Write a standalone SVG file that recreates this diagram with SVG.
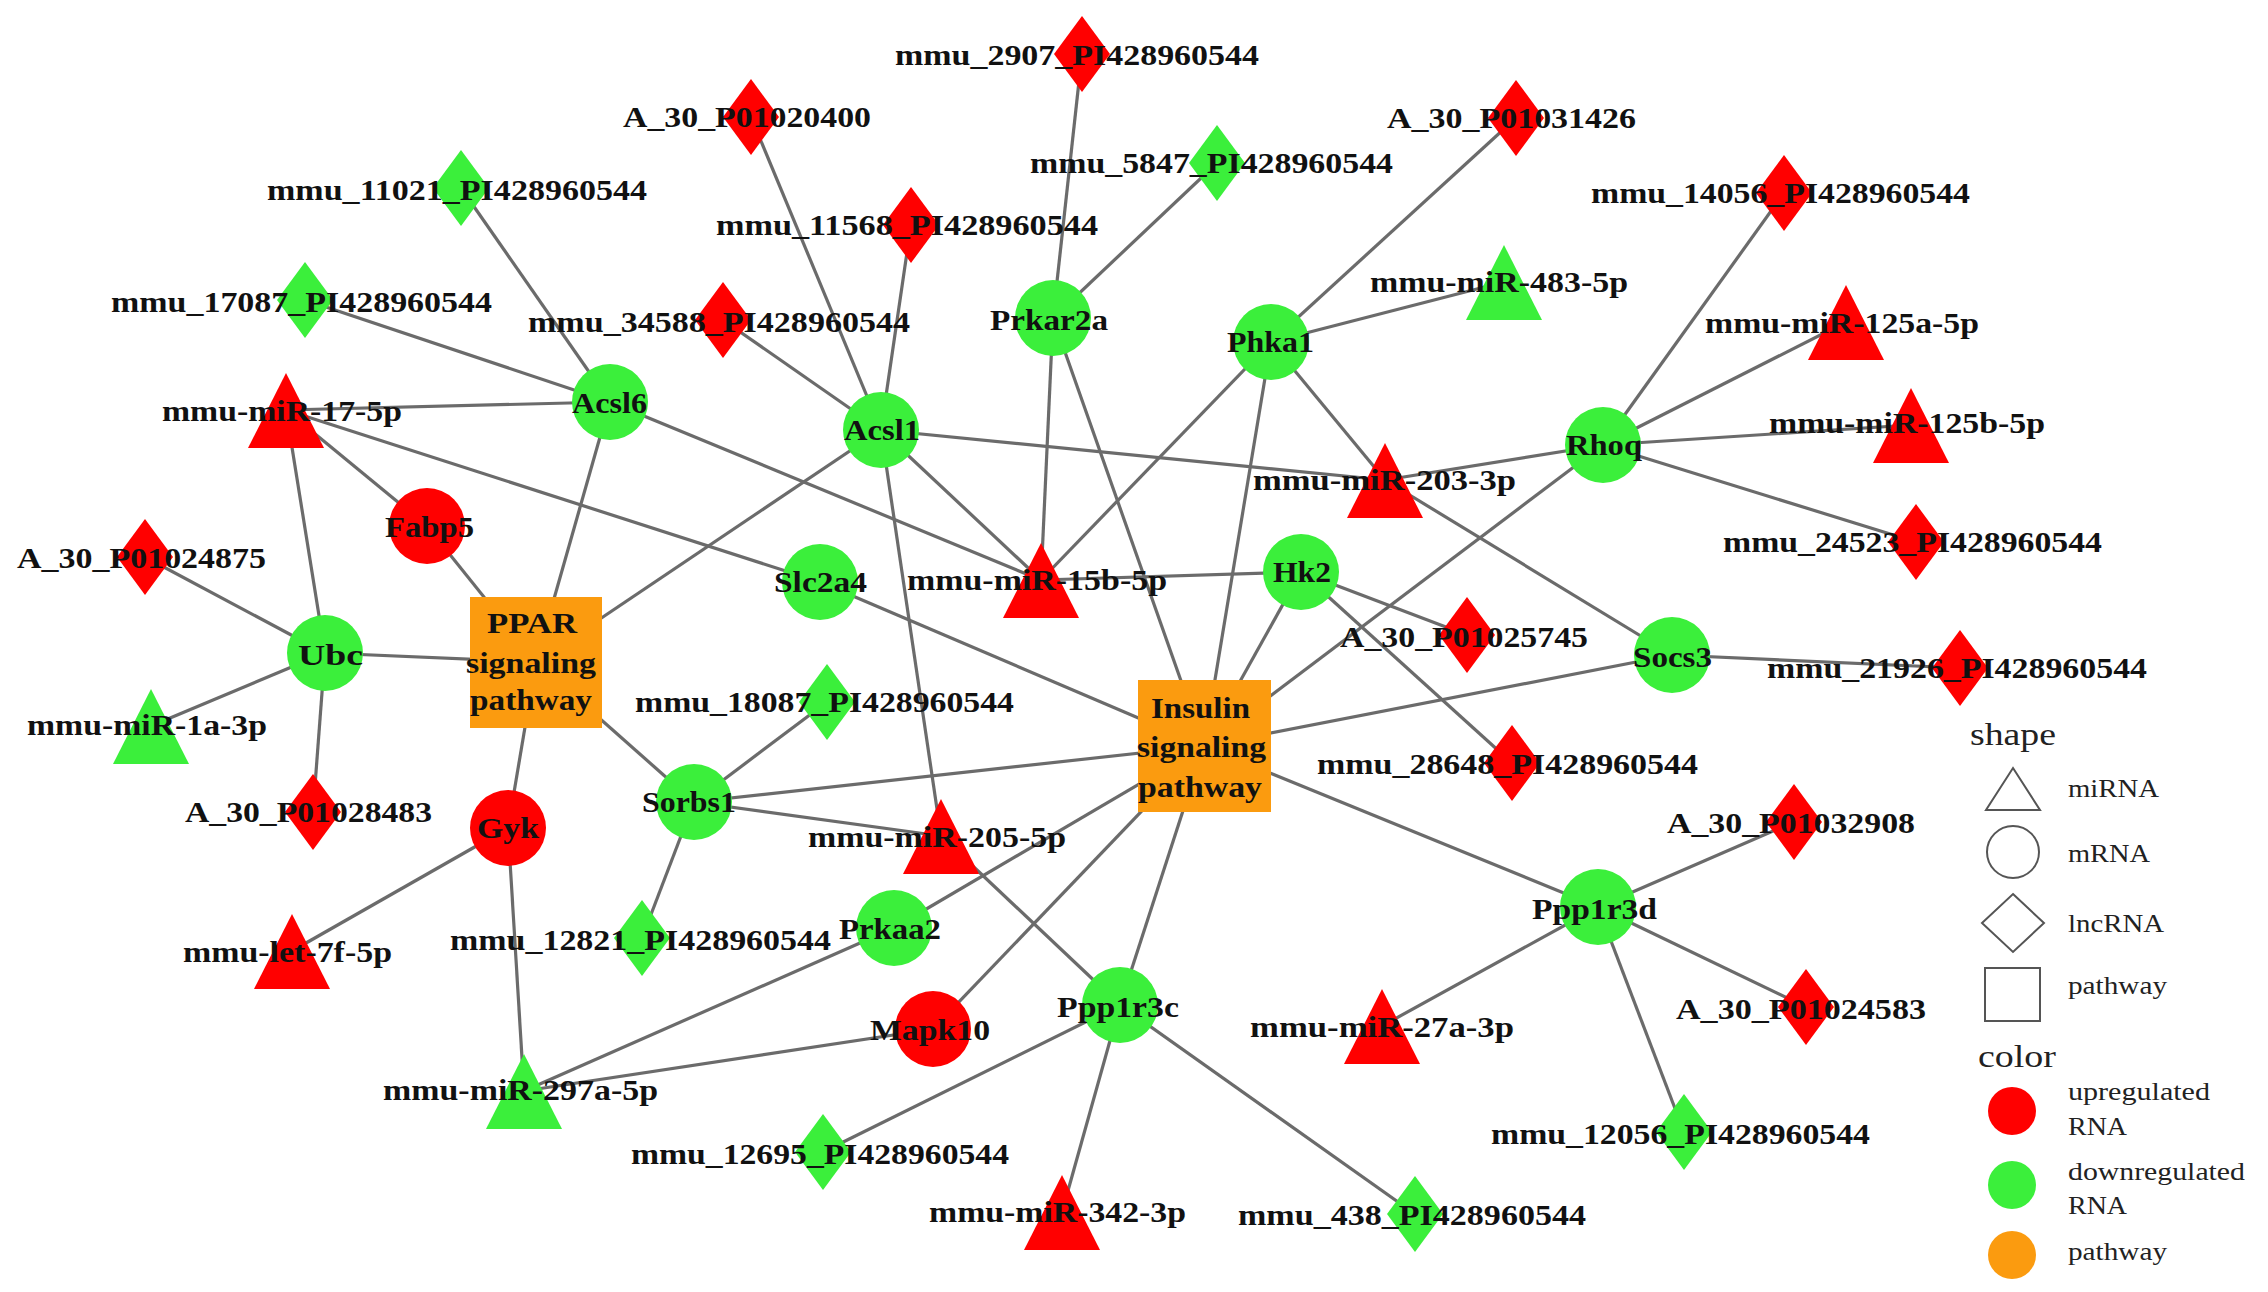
<svg xmlns="http://www.w3.org/2000/svg" xmlns:xlink="http://www.w3.org/1999/xlink" width="2268" height="1292" viewBox="0 0 2268 1292">
<style>
.e{stroke:#6b6b6b;stroke-width:3.2;fill:none}
.r{fill:#ff0000}
.g{fill:#3bef3b}
.o{fill:#fb9b0f}
.t{font-family:"Liberation Serif","Times New Roman",serif;font-weight:bold;font-size:30px;fill:#111}
.l{font-family:"Liberation Serif","Times New Roman",serif;font-size:26px;fill:#222}
.lt{font-family:"Liberation Serif","Times New Roman",serif;font-size:31px;fill:#222}
.ol{fill:#fff;stroke:#555;stroke-width:2}
</style>
<defs>
<path id="dia" d="M0,-38 L28,0 L0,38 L-28,0 Z"/>
<path id="tri" d="M0,-37 L38,38 L-38,38 Z"/>
</defs>
<rect width="2268" height="1292" fill="#fff"/>
<g id="connectors">
<line class="e" x1="461" y1="188" x2="610" y2="402"/>
<line class="e" x1="305" y1="300" x2="610" y2="402"/>
<line class="e" x1="286" y1="410" x2="610" y2="402"/>
<line class="e" x1="751" y1="117" x2="881" y2="430"/>
<line class="e" x1="911" y1="225" x2="881" y2="430"/>
<line class="e" x1="723" y1="320" x2="881" y2="430"/>
<line class="e" x1="1082" y1="54" x2="1053" y2="318"/>
<line class="e" x1="1217" y1="163" x2="1053" y2="318"/>
<line class="e" x1="1516" y1="118" x2="1271" y2="342"/>
<line class="e" x1="1504" y1="282" x2="1271" y2="342"/>
<line class="e" x1="1784" y1="193" x2="1603" y2="445"/>
<line class="e" x1="1846" y1="322" x2="1603" y2="445"/>
<line class="e" x1="1911" y1="425" x2="1603" y2="445"/>
<line class="e" x1="1916" y1="542" x2="1603" y2="445"/>
<line class="e" x1="881" y1="430" x2="1385" y2="480"/>
<line class="e" x1="1385" y1="480" x2="1603" y2="445"/>
<line class="e" x1="1271" y1="342" x2="1385" y2="480"/>
<line class="e" x1="1385" y1="480" x2="1672" y2="655"/>
<line class="e" x1="610" y1="402" x2="1041" y2="580"/>
<line class="e" x1="881" y1="430" x2="1041" y2="580"/>
<line class="e" x1="1053" y1="318" x2="1041" y2="580"/>
<line class="e" x1="1271" y1="342" x2="1041" y2="580"/>
<line class="e" x1="1041" y1="580" x2="1301" y2="572"/>
<line class="e" x1="1053" y1="318" x2="1204" y2="746"/>
<line class="e" x1="1271" y1="342" x2="1204" y2="746"/>
<line class="e" x1="1301" y1="572" x2="1204" y2="746"/>
<line class="e" x1="1301" y1="572" x2="1467" y2="635"/>
<line class="e" x1="1301" y1="572" x2="1512" y2="763"/>
<line class="e" x1="1204" y1="746" x2="1603" y2="445"/>
<line class="e" x1="1204" y1="746" x2="1672" y2="655"/>
<line class="e" x1="1672" y1="655" x2="1960" y2="668"/>
<line class="e" x1="1204" y1="746" x2="1598" y2="907"/>
<line class="e" x1="1598" y1="907" x2="1794" y2="822"/>
<line class="e" x1="1598" y1="907" x2="1806" y2="1007"/>
<line class="e" x1="1598" y1="907" x2="1684" y2="1132"/>
<line class="e" x1="1598" y1="907" x2="1382" y2="1026"/>
<line class="e" x1="1204" y1="746" x2="1120" y2="1005"/>
<line class="e" x1="1204" y1="746" x2="933" y2="1029"/>
<line class="e" x1="1204" y1="746" x2="894" y2="928"/>
<line class="e" x1="524" y1="1091" x2="894" y2="928"/>
<line class="e" x1="524" y1="1091" x2="933" y2="1029"/>
<line class="e" x1="524" y1="1091" x2="508" y2="828"/>
<line class="e" x1="941" y1="836" x2="1120" y2="1005"/>
<line class="e" x1="881" y1="430" x2="941" y2="836"/>
<line class="e" x1="694" y1="802" x2="941" y2="836"/>
<line class="e" x1="694" y1="802" x2="827" y2="702"/>
<line class="e" x1="694" y1="802" x2="642" y2="938"/>
<line class="e" x1="694" y1="802" x2="536" y2="662"/>
<line class="e" x1="694" y1="802" x2="1204" y2="746"/>
<line class="e" x1="820" y1="582" x2="1204" y2="746"/>
<line class="e" x1="286" y1="410" x2="820" y2="582"/>
<line class="e" x1="286" y1="410" x2="427" y2="526"/>
<line class="e" x1="286" y1="410" x2="325" y2="653"/>
<line class="e" x1="536" y1="662" x2="610" y2="402"/>
<line class="e" x1="536" y1="662" x2="881" y2="430"/>
<line class="e" x1="536" y1="662" x2="427" y2="526"/>
<line class="e" x1="536" y1="662" x2="325" y2="653"/>
<line class="e" x1="536" y1="662" x2="508" y2="828"/>
<line class="e" x1="325" y1="653" x2="145" y2="557"/>
<line class="e" x1="325" y1="653" x2="151" y2="726"/>
<line class="e" x1="325" y1="653" x2="313" y2="812"/>
<line class="e" x1="508" y1="828" x2="292" y2="951"/>
<line class="e" x1="1120" y1="1005" x2="823" y2="1152"/>
<line class="e" x1="1120" y1="1005" x2="1062" y2="1212"/>
<line class="e" x1="1120" y1="1005" x2="1415" y2="1214"/>
</g>
<g id="nodes">
<g id="n-mmu_11021"><use href="#dia" x="461" y="188" class="g"/><text class="t" x="267" y="200" textLength="380" lengthAdjust="spacingAndGlyphs">mmu_11021_PI428960544</text></g>
<g id="n-mmu_17087"><use href="#dia" x="305" y="300" class="g"/><text class="t" x="111" y="312" textLength="381" lengthAdjust="spacingAndGlyphs">mmu_17087_PI428960544</text></g>
<g id="n-A_30_P01020400"><use href="#dia" x="751" y="117" class="r"/><text class="t" x="623" y="127" textLength="248" lengthAdjust="spacingAndGlyphs">A_30_P01020400</text></g>
<g id="n-mmu_34588"><use href="#dia" x="723" y="320" class="r"/><text class="t" x="528" y="332" textLength="382" lengthAdjust="spacingAndGlyphs">mmu_34588_PI428960544</text></g>
<g id="n-mmu_2907"><use href="#dia" x="1082" y="54" class="r"/><text class="t" x="895" y="65" textLength="364" lengthAdjust="spacingAndGlyphs">mmu_2907_PI428960544</text></g>
<g id="n-mmu_5847"><use href="#dia" x="1217" y="163" class="g"/><text class="t" x="1030" y="173" textLength="363" lengthAdjust="spacingAndGlyphs">mmu_5847_PI428960544</text></g>
<g id="n-mmu_11568"><use href="#dia" x="911" y="225" class="r"/><text class="t" x="716" y="235" textLength="382" lengthAdjust="spacingAndGlyphs">mmu_11568_PI428960544</text></g>
<g id="n-A_30_P01031426"><use href="#dia" x="1516" y="118" class="r"/><text class="t" x="1387" y="128" textLength="249" lengthAdjust="spacingAndGlyphs">A_30_P01031426</text></g>
<g id="n-mmu_14056"><use href="#dia" x="1784" y="193" class="r"/><text class="t" x="1591" y="203" textLength="379" lengthAdjust="spacingAndGlyphs">mmu_14056_PI428960544</text></g>
<g id="n-mmu_24523"><use href="#dia" x="1916" y="542" class="r"/><text class="t" x="1723" y="552" textLength="379" lengthAdjust="spacingAndGlyphs">mmu_24523_PI428960544</text></g>
<g id="n-mmu_21926"><use href="#dia" x="1960" y="668" class="r"/><text class="t" x="1767" y="678" textLength="380" lengthAdjust="spacingAndGlyphs">mmu_21926_PI428960544</text></g>
<g id="n-A_30_P01032908"><use href="#dia" x="1794" y="822" class="r"/><text class="t" x="1667" y="833" textLength="248" lengthAdjust="spacingAndGlyphs">A_30_P01032908</text></g>
<g id="n-mmu_28648"><use href="#dia" x="1512" y="763" class="r"/><text class="t" x="1317" y="774" textLength="381" lengthAdjust="spacingAndGlyphs">mmu_28648_PI428960544</text></g>
<g id="n-A_30_P01025745"><use href="#dia" x="1467" y="635" class="r"/><text class="t" x="1340" y="647" textLength="248" lengthAdjust="spacingAndGlyphs">A_30_P01025745</text></g>
<g id="n-A_30_P01024583"><use href="#dia" x="1806" y="1007" class="r"/><text class="t" x="1676" y="1019" textLength="250" lengthAdjust="spacingAndGlyphs">A_30_P01024583</text></g>
<g id="n-mmu_12056"><use href="#dia" x="1684" y="1132" class="g"/><text class="t" x="1491" y="1144" textLength="379" lengthAdjust="spacingAndGlyphs">mmu_12056_PI428960544</text></g>
<g id="n-mmu_438"><use href="#dia" x="1415" y="1214" class="g"/><text class="t" x="1238" y="1225" textLength="348" lengthAdjust="spacingAndGlyphs">mmu_438_PI428960544</text></g>
<g id="n-mmu_12695"><use href="#dia" x="823" y="1152" class="g"/><text class="t" x="631" y="1164" textLength="378" lengthAdjust="spacingAndGlyphs">mmu_12695_PI428960544</text></g>
<g id="n-mmu_12821"><use href="#dia" x="642" y="938" class="g"/><text class="t" x="450" y="950" textLength="381" lengthAdjust="spacingAndGlyphs">mmu_12821_PI428960544</text></g>
<g id="n-A_30_P01024875"><use href="#dia" x="145" y="557" class="r"/><text class="t" x="17" y="568" textLength="249" lengthAdjust="spacingAndGlyphs">A_30_P01024875</text></g>
<g id="n-A_30_P01028483"><use href="#dia" x="313" y="812" class="r"/><text class="t" x="185" y="822" textLength="247" lengthAdjust="spacingAndGlyphs">A_30_P01028483</text></g>
<g id="n-mmu_18087"><use href="#dia" x="827" y="702" class="g"/><text class="t" x="635" y="712" textLength="379" lengthAdjust="spacingAndGlyphs">mmu_18087_PI428960544</text></g>

<g id="n-miR-17-5p"><use href="#tri" x="286" y="410" class="r"/><text class="t" x="162" y="421" textLength="240" lengthAdjust="spacingAndGlyphs">mmu-miR-17-5p</text></g>
<g id="n-miR-483-5p"><use href="#tri" x="1504" y="282" class="g"/><text class="t" x="1370" y="292" textLength="258" lengthAdjust="spacingAndGlyphs">mmu-miR-483-5p</text></g>
<g id="n-miR-125a-5p"><use href="#tri" x="1846" y="322" class="r"/><text class="t" x="1705" y="333" textLength="274" lengthAdjust="spacingAndGlyphs">mmu-miR-125a-5p</text></g>
<g id="n-miR-125b-5p"><use href="#tri" x="1911" y="425" class="r"/><text class="t" x="1769" y="433" textLength="276" lengthAdjust="spacingAndGlyphs">mmu-miR-125b-5p</text></g>
<g id="n-miR-203-3p"><use href="#tri" x="1385" y="480" class="r"/><text class="t" x="1253" y="490" textLength="263" lengthAdjust="spacingAndGlyphs">mmu-miR-203-3p</text></g>
<g id="n-miR-15b-5p"><use href="#tri" x="1041" y="580" class="r"/><text class="t" x="907" y="590" textLength="260" lengthAdjust="spacingAndGlyphs">mmu-miR-15b-5p</text></g>
<g id="n-miR-205-5p"><use href="#tri" x="941" y="836" class="r"/><text class="t" x="808" y="847" textLength="258" lengthAdjust="spacingAndGlyphs">mmu-miR-205-5p</text></g>
<g id="n-miR-27a-3p"><use href="#tri" x="1382" y="1026" class="r"/><text class="t" x="1250" y="1037" textLength="264" lengthAdjust="spacingAndGlyphs">mmu-miR-27a-3p</text></g>
<g id="n-miR-342-3p"><use href="#tri" x="1062" y="1212" class="r"/><text class="t" x="929" y="1222" textLength="257" lengthAdjust="spacingAndGlyphs">mmu-miR-342-3p</text></g>
<g id="n-let-7f-5p"><use href="#tri" x="292" y="951" class="r"/><text class="t" x="183" y="962" textLength="209" lengthAdjust="spacingAndGlyphs">mmu-let-7f-5p</text></g>
<g id="n-miR-297a-5p"><use href="#tri" x="524" y="1091" class="g"/><text class="t" x="383" y="1100" textLength="275" lengthAdjust="spacingAndGlyphs">mmu-miR-297a-5p</text></g>
<g id="n-miR-1a-3p"><use href="#tri" x="151" y="726" class="g"/><text class="t" x="27" y="735" textLength="240" lengthAdjust="spacingAndGlyphs">mmu-miR-1a-3p</text></g>

<g id="n-Acsl6"><circle cx="610" cy="402" r="38" class="g"/><text class="t" x="572" y="413" textLength="75" lengthAdjust="spacingAndGlyphs">Acsl6</text></g>
<g id="n-Acsl1"><circle cx="881" cy="430" r="38" class="g"/><text class="t" x="844" y="440" textLength="76" lengthAdjust="spacingAndGlyphs">Acsl1</text></g>
<g id="n-Prkar2a"><circle cx="1053" cy="318" r="38" class="g"/><text class="t" x="990" y="330" textLength="118" lengthAdjust="spacingAndGlyphs">Prkar2a</text></g>
<g id="n-Phka1"><circle cx="1271" cy="342" r="38" class="g"/><text class="t" x="1227" y="352" textLength="87" lengthAdjust="spacingAndGlyphs">Phka1</text></g>
<g id="n-Rhoq"><circle cx="1603" cy="445" r="38" class="g"/><text class="t" x="1566" y="455" textLength="76" lengthAdjust="spacingAndGlyphs">Rhoq</text></g>
<g id="n-Socs3"><circle cx="1672" cy="655" r="38" class="g"/><text class="t" x="1633" y="667" textLength="79" lengthAdjust="spacingAndGlyphs">Socs3</text></g>
<g id="n-Hk2"><circle cx="1301" cy="572" r="38" class="g"/><text class="t" x="1273" y="582" textLength="58" lengthAdjust="spacingAndGlyphs">Hk2</text></g>
<g id="n-Slc2a4"><circle cx="820" cy="582" r="38" class="g"/><text class="t" x="774" y="592" textLength="93" lengthAdjust="spacingAndGlyphs">Slc2a4</text></g>
<g id="n-Ubc"><circle cx="325" cy="653" r="38" class="g"/><text class="t" x="298" y="665" textLength="65" lengthAdjust="spacingAndGlyphs">Ubc</text></g>
<g id="n-Fabp5"><circle cx="427" cy="526" r="38" class="r"/><text class="t" x="385" y="537" textLength="89" lengthAdjust="spacingAndGlyphs">Fabp5</text></g>
<g id="n-Gyk"><circle cx="508" cy="828" r="38" class="r"/><text class="t" x="477" y="838" textLength="62" lengthAdjust="spacingAndGlyphs">Gyk</text></g>
<g id="n-Sorbs1"><circle cx="694" cy="802" r="38" class="g"/><text class="t" x="642" y="812" textLength="94" lengthAdjust="spacingAndGlyphs">Sorbs1</text></g>
<g id="n-Prkaa2"><circle cx="894" cy="928" r="38" class="g"/><text class="t" x="839" y="939" textLength="102" lengthAdjust="spacingAndGlyphs">Prkaa2</text></g>
<g id="n-Mapk10"><circle cx="933" cy="1029" r="38" class="r"/><text class="t" x="870" y="1040" textLength="120" lengthAdjust="spacingAndGlyphs">Mapk10</text></g>
<g id="n-Ppp1r3c"><circle cx="1120" cy="1005" r="38" class="g"/><text class="t" x="1057" y="1017" textLength="122" lengthAdjust="spacingAndGlyphs">Ppp1r3c</text></g>
<g id="n-Ppp1r3d"><circle cx="1598" cy="907" r="38" class="g"/><text class="t" x="1532" y="919" textLength="125" lengthAdjust="spacingAndGlyphs">Ppp1r3d</text></g>

<g id="n-PPAR"><rect x="470" y="597" width="132" height="131" class="o"/><text class="t" x="487" y="633" textLength="90" lengthAdjust="spacingAndGlyphs">PPAR</text><text class="t" x="466" y="673" textLength="130" lengthAdjust="spacingAndGlyphs">signaling</text><text class="t" x="470" y="710" textLength="122" lengthAdjust="spacingAndGlyphs">pathway</text></g>
<g id="n-Insulin"><rect x="1138" y="680" width="133" height="132" class="o"/><text class="t" x="1151" y="718" textLength="99" lengthAdjust="spacingAndGlyphs">Insulin</text><text class="t" x="1137" y="757" textLength="129" lengthAdjust="spacingAndGlyphs">signaling</text><text class="t" x="1138" y="797" textLength="124" lengthAdjust="spacingAndGlyphs">pathway</text></g>
</g>
<g id="legend">
<text class="lt" x="1970" y="745" textLength="86" lengthAdjust="spacingAndGlyphs">shape</text>
<path class="ol" d="M2013,768 L2040,810 L1986,810 Z"/>
<text class="l" x="2068" y="797" textLength="91" lengthAdjust="spacingAndGlyphs">miRNA</text>
<circle class="ol" cx="2013" cy="852" r="26"/>
<text class="l" x="2068" y="862" textLength="82" lengthAdjust="spacingAndGlyphs">mRNA</text>
<path class="ol" d="M2013,894 L2044,923 L2013,952 L1982,923 Z"/>
<text class="l" x="2068" y="932" textLength="96" lengthAdjust="spacingAndGlyphs">lncRNA</text>
<rect class="ol" x="1985" y="968" width="55" height="53"/>
<text class="l" x="2068" y="994" textLength="99" lengthAdjust="spacingAndGlyphs">pathway</text>
<text class="lt" x="1978" y="1067" textLength="78" lengthAdjust="spacingAndGlyphs">color</text>
<circle class="r" cx="2012" cy="1111" r="24"/>
<text class="l" x="2068" y="1100" textLength="142" lengthAdjust="spacingAndGlyphs">upregulated</text>
<text class="l" x="2068" y="1135" textLength="59" lengthAdjust="spacingAndGlyphs">RNA</text>
<circle class="g" cx="2012" cy="1185" r="24"/>
<text class="l" x="2068" y="1180" textLength="177" lengthAdjust="spacingAndGlyphs">downregulated</text>
<text class="l" x="2068" y="1214" textLength="59" lengthAdjust="spacingAndGlyphs">RNA</text>
<circle class="o" cx="2012" cy="1255" r="24"/>
<text class="l" x="2068" y="1260" textLength="99" lengthAdjust="spacingAndGlyphs">pathway</text>
</g>
</svg>
